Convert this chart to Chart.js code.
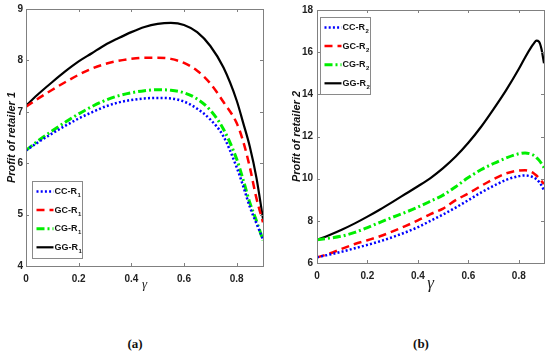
<!DOCTYPE html>
<html lang="en">
<head>
<meta charset="UTF-8">
<title>Profit of retailers vs gamma</title>
<script src="https://cdn.jsdelivr.net/npm/chart.js"></script>
<style>
  body { margin: 0; background: #fff; width: 550px; height: 358px; position: relative; overflow: hidden; }
  .panel { position: absolute; top: 0; width: 275px; height: 300px; }
  .cap { position: absolute; top: 336px; width: 40px; text-align: center;
         font: bold 13px 'Liberation Serif', 'Times New Roman', serif; color: #111; }
</style>
</head>
<body>
<div class="panel" style="left:0"><canvas id="chartA"></canvas></div>
<div class="panel" style="left:275px"><canvas id="chartB"></canvas></div>
<div class="cap" style="left:115px">(a)</div>
<div class="cap" style="left:401px">(b)</div>

<script>
// gamma values (x) for each panel
const gammaA = [0, 0.05, 0.1, 0.15, 0.2, 0.25, 0.3, 0.35, 0.4, 0.45, 0.5, 0.55, 0.6, 0.65, 0.7, 0.75, 0.8, 0.825, 0.85, 0.875, 0.9];
const gammaB = [0, 0.05, 0.1, 0.15, 0.2, 0.25, 0.3, 0.35, 0.4, 0.45, 0.5, 0.55, 0.6, 0.65, 0.7, 0.75, 0.8, 0.825, 0.85, 0.86, 0.87, 0.88, 0.89, 0.9];

// panel (a): profit of retailer 1
const ccR1 = [6.25, 6.42, 6.58, 6.73, 6.87, 6.99, 7.10, 7.18, 7.23, 7.26, 7.27, 7.26, 7.20, 7.06, 6.85, 6.52, 5.92, 5.55, 5.15, 4.83, 4.52];
const gcR1 = [7.10, 7.27, 7.43, 7.58, 7.72, 7.84, 7.93, 7.99, 8.03, 8.05, 8.05, 8.03, 7.95, 7.80, 7.55, 7.19, 6.78, 6.42, 5.92, 5.32, 4.85];
const cgR1 = [6.25, 6.45, 6.63, 6.80, 6.96, 7.10, 7.22, 7.31, 7.37, 7.41, 7.43, 7.42, 7.37, 7.25, 7.03, 6.66, 6.08, 5.67, 5.23, 4.88, 4.50];
const ggR1 = [7.12, 7.36, 7.58, 7.79, 7.98, 8.14, 8.30, 8.43, 8.55, 8.65, 8.71, 8.73, 8.69, 8.55, 8.28, 7.86, 7.22, 6.78, 6.32, 5.72, 4.92];

// panel (b): profit of retailer 2
const ccR2 = [6.27, 6.40, 6.54, 6.70, 6.86, 7.03, 7.23, 7.45, 7.70, 8.00, 8.30, 8.63, 8.98, 9.34, 9.66, 9.94, 10.12, 10.15, 10.10, 10.05, 9.97, 9.85, 9.68, 9.45];
const gcR2 = [6.27, 6.45, 6.68, 6.90, 7.08, 7.27, 7.50, 7.75, 8.02, 8.32, 8.58, 8.98, 9.30, 9.65, 9.98, 10.25, 10.39, 10.40, 10.32, 10.25, 10.15, 10.02, 9.88, 9.75];
const cgR2 = [7.10, 7.18, 7.28, 7.45, 7.68, 7.93, 8.17, 8.40, 8.65, 8.93, 9.22, 9.62, 10.05, 10.42, 10.72, 10.98, 11.18, 11.22, 11.16, 11.10, 11.00, 10.88, 10.72, 10.52];
const ggR2 = [7.10, 7.33, 7.59, 7.88, 8.20, 8.54, 8.90, 9.27, 9.64, 10.03, 10.50, 11.05, 11.70, 12.45, 13.30, 14.20, 15.20, 15.75, 16.25, 16.42, 16.55, 16.50, 16.15, 15.47];

const labelsA = ['CC-R₁', 'GC-R₁', 'CG-R₁', 'GG-R₁'];
const labelsB = ['CC-R₂', 'GC-R₂', 'CG-R₂', 'GG-R₂'];

const xTicks = [0, 0.2, 0.4, 0.6, 0.8];
const yTicksA = [4, 5, 6, 7, 8, 9];
const yTicksB = [6, 8, 10, 12, 14, 16, 18];

const styles = [
  { color: '#0000ff', dash: [2, 2.2], width: 2.5 },
  { color: '#ff0000', dash: [8, 5], width: 2.5 },
  { color: '#00ee00', dash: [8, 3, 2, 3], width: 3 },
  { color: '#000000', dash: [], width: 2.2 }
];

const toPoints = (xs, ys) => ys.map((v, i) => ({ x: xs[i], y: v }));

function makeDatasets(xs, series, labels) {
  return series.map((ys, i) => ({
    label: labels[i],
    data: toPoints(xs, ys),
    borderColor: styles[i].color,
    borderDash: styles[i].dash,
    borderWidth: styles[i].width,
    pointRadius: 0,
    cubicInterpolationMode: 'monotone',
    fill: false
  }));
}

// frame with inward ticks (matlab style) + legend box inside the plot
const framePlugin = {
  id: 'frame',
  afterDatasetsDraw(chart, args, opts) {
    const { ctx, chartArea: a, scales: { x, y } } = chart;
    ctx.save();
    ctx.strokeStyle = '#808080';
    ctx.lineWidth = 1;
    ctx.setLineDash([]);
    ctx.strokeRect(Math.round(a.left) + 0.5, Math.round(a.top) + 0.5, Math.round(a.width), Math.round(a.height));
    ctx.beginPath();
    x.ticks.forEach(t => {
      const px = Math.round(x.getPixelForValue(t.value)) + 0.5;
      ctx.moveTo(px, a.bottom); ctx.lineTo(px, a.bottom - 3);
      ctx.moveTo(px, a.top); ctx.lineTo(px, a.top + 3);
    });
    y.ticks.forEach(t => {
      const py = Math.round(y.getPixelForValue(t.value)) + 0.5;
      ctx.moveTo(a.left, py); ctx.lineTo(a.left + 3, py);
      ctx.moveTo(a.right, py); ctx.lineTo(a.right - 3, py);
    });
    ctx.stroke();

    // legend
    const w = 50, h = 77;
    const lx = Math.round(a.left + opts.dx) + 0.5;
    const ly = Math.round(opts.fromBottom ? a.bottom - opts.dy - h : a.top + opts.dy) + 0.5;
    ctx.fillStyle = '#fff';
    ctx.fillRect(lx, ly, w, h);
    ctx.strokeStyle = '#8a8a8a';
    ctx.strokeRect(lx, ly, w, h);
    chart.data.datasets.forEach((ds, i) => {
      const ry = ly + 10 + i * 18.6;
      ctx.beginPath();
      ctx.strokeStyle = ds.borderColor;
      ctx.lineWidth = ds.borderWidth;
      ctx.setLineDash(ds.borderDash);
      ctx.moveTo(lx + 4, ry);
      ctx.lineTo(lx + 21, ry);
      ctx.stroke();
      ctx.setLineDash([]);
      const main = ds.label.slice(0, -1);
      const sub = String('₀₁₂₃₄₅₆₇₈₉'.indexOf(ds.label.slice(-1)));
      ctx.fillStyle = '#111';
      ctx.textBaseline = 'middle';
      ctx.textAlign = 'left';
      ctx.font = "bold 9px 'Liberation Sans', Arial, sans-serif";
      ctx.fillText(main, lx + 22, ry);
      const mw = ctx.measureText(main).width;
      ctx.font = "bold 6px 'Liberation Sans', Arial, sans-serif";
      ctx.fillText(sub, lx + 22 + mw + 0.5, ry + 4);
    });
    ctx.restore();
  }
};

const tickFont = { family: "'Liberation Sans', Arial, sans-serif", size: 10, weight: 'bold' };

function makeChart(id, xs, series, labels, yTicks, cfg) {
  return new Chart(document.getElementById(id), {
    type: 'line',
    data: { datasets: makeDatasets(xs, series, labels) },
    plugins: [framePlugin],
    options: {
      responsive: true,
      maintainAspectRatio: false,
      animation: false,
      devicePixelRatio: 1,
      layout: { padding: cfg.padding },
      plugins: {
        legend: { display: false },
        tooltip: { enabled: false },
        frame: cfg.legend
      },
      scales: {
        x: {
          type: 'linear',
          min: 0,
          max: 0.9,
          grid: { display: false, drawTicks: false },
          border: { display: false },
          afterBuildTicks: s => { s.ticks = xTicks.map(v => ({ value: v })); },
          afterFit: s => { s.height = cfg.xHeight; },
          ticks: { font: tickFont, color: '#222', padding: cfg.xTickPad, maxRotation: 0, callback: v => String(v) },
          title: {
            display: true,
            text: 'γ',
            color: '#222',
            font: { family: "'Liberation Serif', 'Times New Roman', serif", size: cfg.gammaSize, style: 'italic' },
            padding: { top: 0, bottom: cfg.gammaPad }
          }
        },
        y: {
          type: 'linear',
          min: yTicks[0],
          max: yTicks[yTicks.length - 1],
          grid: { display: false, drawTicks: false },
          border: { display: false },
          afterBuildTicks: s => { s.ticks = yTicks.map(v => ({ value: v })); },
          afterFit: s => { s.width = cfg.yWidth; },
          ticks: { font: tickFont, color: '#222', padding: cfg.yTickPad, callback: v => String(v) },
          title: {
            display: true,
            text: cfg.yTitle,
            color: '#111',
            font: { family: "'Liberation Sans', Arial, sans-serif", size: 11, weight: 'bold', style: 'italic' },
            padding: { top: cfg.yTitlePad, bottom: 0 }
          }
        }
      }
    }
  });
}

makeChart('chartA', gammaA, [ccR1, gcR1, cgR1, ggR1], labelsA, yTicksA, {
  padding: { top: 9, right: 12, bottom: 0, left: 0 },
  xHeight: 34, yWidth: 26, xTickPad: 7, yTickPad: 3,
  gammaSize: 13, gammaPad: 8, yTitlePad: 5,
  yTitle: 'Profit of retailer 1',
  legend: { dx: 6, dy: 8, fromBottom: true }
});

makeChart('chartB', gammaB, [ccR2, gcR2, cgR2, ggR2], labelsB, yTicksB, {
  padding: { top: 8, right: 6, bottom: 0, left: 0 },
  xHeight: 37, yWidth: 42, xTickPad: 7, yTickPad: 4,
  gammaSize: 17, gammaPad: 6, yTitlePad: 15,
  yTitle: 'Profit of retailer 2',
  legend: { dx: 3, dy: 7, fromBottom: false }
});
</script>
</body>
</html>
